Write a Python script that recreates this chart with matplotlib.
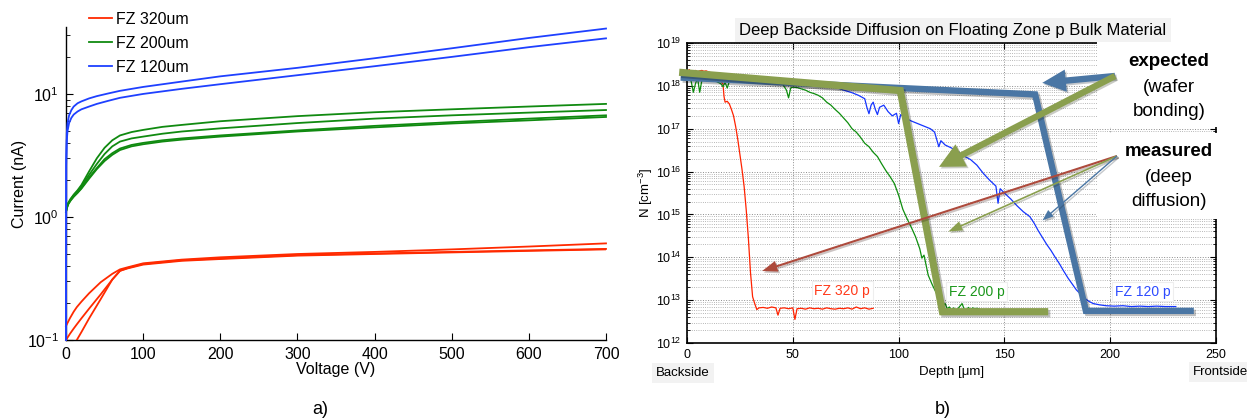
import numpy as np
import matplotlib
matplotlib.use('Agg')
import matplotlib.pyplot as plt
from matplotlib.patches import Rectangle, FancyArrowPatch
import matplotlib.patheffects as pe

plt.rcParams['font.family'] = ['Liberation Sans', 'DejaVu Sans']
plt.rcParams['mathtext.fontset'] = 'custom'
plt.rcParams['mathtext.rm'] = 'Liberation Sans'
plt.rcParams['mathtext.it'] = 'Liberation Sans:italic'
plt.rcParams['mathtext.bf'] = 'Liberation Sans:bold'

# ---------------- panel a) data : I-V curves ----------------
iv_labels = ['FZ 320um', 'FZ 200um', 'FZ 120um']

red_V = [0, 5, 10, 14, 20, 30, 45, 60, 70, 80, 100, 150, 200, 300, 400, 500, 600, 700]
red_I1 = [0.13, 0.15, 0.17, 0.185, 0.205, 0.24, 0.295, 0.345, 0.375, 0.39, 0.42, 0.45, 0.47, 0.50, 0.52, 0.545, 0.575, 0.61]
red_I2 = [0.10, 0.112, 0.124, 0.134, 0.15, 0.18, 0.235, 0.31, 0.365, 0.385, 0.415, 0.445, 0.46, 0.49, 0.505, 0.52, 0.535, 0.55]
red_I3 = [0.07, 0.08, 0.09, 0.10, 0.116, 0.15, 0.215, 0.31, 0.365, 0.382, 0.41, 0.44, 0.455, 0.485, 0.50, 0.515, 0.53, 0.545]

green_V = [0, 1, 3, 6, 10, 15, 20, 30, 40, 50, 60, 70, 85, 100, 125, 150, 200, 300, 400, 500, 600, 700]
green_I1 = [1.1, 1.2, 1.3, 1.4, 1.52, 1.65, 1.82, 2.35, 3.0, 3.65, 4.2, 4.6, 4.9, 5.1, 5.4, 5.6, 6.0, 6.6, 7.1, 7.5, 7.9, 8.3]
green_I2 = [1.1, 1.2, 1.3, 1.4, 1.5, 1.62, 1.78, 2.2, 2.7, 3.25, 3.75, 4.1, 4.35, 4.5, 4.75, 4.95, 5.25, 5.8, 6.3, 6.7, 7.05, 7.4]
green_I3 = [1.1, 1.18, 1.28, 1.37, 1.47, 1.58, 1.72, 2.1, 2.5, 2.95, 3.3, 3.6, 3.85, 4.0, 4.2, 4.35, 4.6, 5.05, 5.5, 5.9, 6.3, 6.7]
green_I4 = [1.1, 1.17, 1.27, 1.36, 1.46, 1.57, 1.7, 2.05, 2.45, 2.85, 3.2, 3.5, 3.75, 3.9, 4.1, 4.25, 4.5, 4.95, 5.35, 5.75, 6.1, 6.5]

blue_V = [0, 0.3, 1, 2, 4, 7, 10, 15, 20, 30, 40, 55, 70, 100, 150, 200, 300, 400, 500, 600, 700]
blue_I1 = [0.1, 3.0, 4.8, 5.8, 6.7, 7.4, 7.9, 8.4, 8.7, 9.2, 9.6, 10.1, 10.6, 11.4, 12.6, 13.9, 16.3, 19.5, 23.5, 28.5, 34.0]
blue_I2 = [0.1, 2.6, 4.2, 5.0, 5.8, 6.4, 6.8, 7.2, 7.5, 7.9, 8.3, 8.8, 9.3, 10.0, 11.0, 12.0, 14.2, 16.8, 20.0, 24.0, 28.3]

volt_ticks = [0, 100, 200, 300, 400, 500, 600, 700]

# ---------------- panel b) data : doping profiles (log10 N) ----------------
prof_labels = ['FZ 320 p', 'FZ 200 p', 'FZ 120 p']

red_depth = [
    0, 1, 2, 3, 4, 5, 6, 7, 8, 9,
    10, 11, 12, 13, 14, 15, 16, 17, 17.5, 18,
    19, 20, 21, 22, 23, 24, 25, 26, 27, 28,
    29, 30, 31, 32, 33, 34, 36, 38, 40, 42,
    43, 44, 46, 48, 50, 51, 52, 54, 56, 58,
    60, 62, 64, 66, 68, 70, 72, 74, 76, 78,
    80, 82, 84, 86, 88]
red_logN = [
    18.30, 18.38, 18.32, 18.30, 18.36, 18.33, 18.35, 18.36, 18.34, 18.35,
    18.33, 18.31, 18.30, 18.28, 18.25, 18.18, 18.10, 18.05, 17.75, 17.62,
    17.64, 17.58, 17.45, 17.30, 17.05, 16.75, 16.40, 16.05, 15.65, 15.10,
    14.45, 13.65, 13.08, 12.92, 12.78, 12.82, 12.83, 12.81, 12.84, 12.82,
    12.65, 12.81, 12.82, 12.80, 12.82, 12.55, 12.80, 12.81, 12.79, 12.82,
    12.80, 12.81, 12.79, 12.82, 12.80, 12.79, 12.81, 12.80, 12.82, 12.79,
    12.84, 12.80, 12.82, 12.79, 12.81]

green_depth = [
    0, 1, 2, 3, 4, 5, 6, 7, 8, 10,
    12, 14, 16, 17, 18, 19, 20, 22, 25, 28,
    31, 34, 37, 40, 43, 45, 47, 48, 49, 50,
    52, 54, 56, 58, 60, 62, 64, 66, 68, 70,
    72, 74, 76, 78, 80, 82, 84, 86, 88, 90,
    92, 94, 96, 98, 100, 102, 104, 106, 108, 110,
    111, 112, 114, 116, 118, 120, 121, 122, 123, 124,
    125, 126, 127, 128, 129, 130, 131, 132, 133, 134,
    135, 136, 137, 138]
green_logN = [
    18.15, 18.20, 18.10, 17.85, 18.05, 18.18, 17.85, 18.12, 18.20, 18.15,
    18.12, 18.10, 18.05, 17.98, 18.08, 17.95, 18.10, 18.08, 18.12, 18.10,
    18.08, 18.10, 18.07, 18.08, 18.05, 18.06, 17.90, 17.72, 17.95, 17.97,
    17.96, 17.93, 17.90, 17.85, 17.82, 17.78, 17.72, 17.62, 17.55, 17.45,
    17.36, 17.25, 17.14, 17.00, 16.92, 16.80, 16.66, 16.58, 16.45, 16.35,
    16.18, 16.02, 15.88, 15.72, 15.45, 15.12, 14.90, 14.70, 14.48, 14.20,
    13.98, 14.05, 13.58, 13.35, 13.15, 12.95, 12.88, 12.92, 12.80, 12.84,
    12.77, 12.82, 12.76, 12.80, 12.86, 12.92, 12.79, 12.77, 12.83, 12.78,
    12.82, 12.80, 12.81, 12.80]

blue_depth = [
    0, 3, 6, 10, 14, 18, 22, 26, 30, 34,
    38, 42, 46, 50, 54, 58, 62, 66, 70, 74,
    78, 81, 84, 85, 86, 87, 88, 89, 90, 91,
    93, 95, 97, 99, 100, 101, 103, 106, 109, 112,
    115, 117, 118, 119, 120, 122, 125, 128, 131, 134,
    137, 140, 143, 146, 147, 148, 150, 153, 156, 159,
    162, 164, 166, 168, 170, 172, 174, 176, 178, 180,
    182, 184, 186, 188, 190, 192, 195, 198, 202, 206,
    210, 214, 218, 222, 226, 231]
blue_logN = [
    18.25, 18.22, 18.24, 18.21, 18.22, 18.20, 18.21, 18.19, 18.20, 18.18,
    18.19, 18.17, 18.16, 18.14, 18.12, 18.10, 18.06, 18.02, 17.97, 17.90,
    17.84, 17.78, 17.70, 17.50, 17.35, 17.55, 17.62, 17.45, 17.33, 17.50,
    17.55, 17.40, 17.30, 17.36, 17.12, 17.33, 17.25, 17.18, 17.12, 17.06,
    17.00, 16.92, 16.75, 16.58, 16.72, 16.62, 16.55, 16.46, 16.36, 16.28,
    16.15, 15.96, 15.80, 15.66, 15.26, 15.60, 15.50, 15.36, 15.20, 15.06,
    14.95, 14.80, 14.62, 14.46, 14.30, 14.16, 14.00, 13.85, 13.68, 13.52,
    13.38, 13.24, 13.14, 13.04, 12.97, 12.92, 12.89, 12.87, 12.86, 12.87,
    12.85, 12.86, 12.85, 12.86, 12.85, 12.85]

# expected profiles (wafer bonding)
exp_green_depth = [-2.0, 100.8, 120.7, 169.0]
exp_green_logN = [18.31, 17.89, 12.73, 12.73]
exp_blue_depth = [-1.5, 164.5, 188.5, 238.0]
exp_blue_logN = [18.19, 17.80, 12.75, 12.75]

depth_ticks = [0, 50, 100, 150, 200, 250]

# ---------------- figure ----------------
W, H = 1247, 419
fig = plt.figure(figsize=(W / 100, H / 100), dpi=100)


def fx(px):
    return px / W


def fy(py):
    return 1 - py / H


C_RED = '#ff2a00'
C_GREEN = '#108a10'
C_BLUE = '#1e40ff'

# ---- panel a ----
ax1 = fig.add_axes([fx(66), fy(340), fx(606) - fx(66), fy(27) - fy(340)])
lw = 1.3
for k, I in enumerate((red_I1, red_I2, red_I3)):
    h_red, = ax1.plot(red_V, I, color=C_RED, lw=lw, zorder=3, clip_on=(k == 2))
for I in (green_I1, green_I2, green_I3, green_I4):
    h_green, = ax1.plot(green_V, I, color=C_GREEN, lw=lw, zorder=3, clip_on=False)
for I in (blue_I1, blue_I2):
    h_blue, = ax1.plot(blue_V, I, color=C_BLUE, lw=lw, zorder=3, clip_on=False)
ax1.set_yscale('log')
ax1.set_ylim(0.1, 35)
ax1.set_xlim(0, 700)
ax1.set_xticks(volt_ticks)
ax1.spines['top'].set_visible(False)
ax1.spines['right'].set_visible(False)
for s in ('left', 'bottom'):
    ax1.spines[s].set_linewidth(1.0)
ax1.tick_params(which='both', direction='in', labelsize=11.5, top=False, right=False)
ax1.tick_params(which='major', length=5, pad=5)
ax1.tick_params(which='minor', length=3)
ax1.set_xlabel('Voltage (V)', fontsize=11.5, labelpad=0)
ax1.set_ylabel('Current (nA)', fontsize=11.5, labelpad=0)
ax1.legend([h_red, h_green, h_blue], iv_labels, loc='upper left',
           bbox_to_anchor=(fx(89), fy(12)), bbox_transform=fig.transFigure,
           frameon=False, borderpad=0, borderaxespad=0, handlelength=1.45,
           handletextpad=0.25, labelspacing=0.56, fontsize=11.5)

fig.text(fx(320), fy(409), 'a)', fontsize=13, ha='center', va='center')
fig.text(fx(943), fy(409), 'b)', fontsize=13, ha='center', va='center')

# ---- panel b ----
ax2 = fig.add_axes([fx(687), fy(343), fx(1216) - fx(687), fy(43) - fy(343)])
ax2.set_yscale('log')
ax2.set_xlim(0, 250)
ax2.set_ylim(1e12, 1e19)
ax2.set_xticks(depth_ticks)
ax2.grid(True, which='major', ls=':', color='#8c8c8c', lw=0.7)
ax2.grid(True, which='minor', axis='y', ls=':', color='#a0a0a0', lw=0.6)
ax2.tick_params(which='both', direction='in', top=True, right=True, labelsize=9)
ax2.tick_params(which='major', length=4, pad=4)
ax2.tick_params(which='minor', length=2.5)
for s in ax2.spines.values():
    s.set_linewidth(1.2)

P_RED = '#ff2200'
P_GREEN = '#0e8e0e'
P_BLUE = '#1535ff'
for dep, lg, c in ((red_depth, red_logN, P_RED), (green_depth, green_logN, P_GREEN),
                   (blue_depth, blue_logN, P_BLUE)):
    ax2.plot(dep, 10 ** np.array(lg), color=c, lw=0.9, zorder=2)

LSHADOW = [pe.SimpleLineShadow(offset=(1.5, -1.5), alpha=0.25), pe.Normal()]
C_STEEL = '#4a76a4'
C_OLIVE = '#8a9f4e'
C_BROWN = '#ad4a3c'
ax2.plot(exp_blue_depth, 10 ** np.array(exp_blue_logN), color=C_STEEL, lw=4.6,
         solid_joinstyle='miter', clip_on=False, zorder=3, path_effects=LSHADOW)
ax2.plot(exp_green_depth, 10 ** np.array(exp_green_logN), color=C_OLIVE, lw=5.2,
         solid_joinstyle='miter', clip_on=False, zorder=3.1, path_effects=LSHADOW)

ax2.set_xlabel('Depth [μm]', fontsize=9.5, labelpad=4)
ax2.set_ylabel('N [cm$^{-3}$]', fontsize=9.5, labelpad=1)

# white boxes behind the annotation text (cover the frame)
for top, bot in ((40, 127), (133, 219)):
    ax2.add_patch(Rectangle((fx(1097), fy(bot)), fx(1247) - fx(1097), fy(top) - fy(bot),
                            transform=fig.transFigure, fc='white', ec='none',
                            zorder=3.5, clip_on=False))

to_fig = ax2.transData + fig.transFigure.inverted()


def arrow(tail_px, tip_d, tip_logN, color, hl, hw, tw, z=4):
    tip = to_fig.transform((tip_d, 10 ** tip_logN))
    a = FancyArrowPatch((fx(tail_px[0]), fy(tail_px[1])), tuple(tip),
                        transform=fig.transFigure,
                        arrowstyle='simple,head_length=%g,head_width=%g,tail_width=%g' % (hl, hw, tw),
                        fc=color, ec='none', shrinkA=0, shrinkB=0, mutation_scale=1,
                        zorder=z, clip_on=False)
    a.set_path_effects([pe.SimplePatchShadow(offset=(1.2, -1.2), alpha=0.25), pe.Normal()])
    ax2.add_artist(a)
    return a


arrow((1115, 76), 167.9, 18.07, C_STEEL, 17, 16, 4.6)
arrow((1115, 76), 119.1, 16.11, C_OLIVE, 18, 18, 4.6)
arrow((1117, 156), 35.5, 13.68, C_BROWN, 11, 8, 1.5)
arrow((1117, 156), 123.5, 14.60, C_OLIVE, 10, 7, 1.2)
arrow((1117, 156), 168.0, 14.86, C_STEEL, 8, 6, 1.0)

for txt, py, bold in (('expected', 62, True), ('(wafer', 87, False), ('bonding)', 112, False),
                      ('measured', 152, True), ('(deep', 177, False), ('diffusion)', 201, False)):
    ax2.text(fx(1169), fy(py), txt, transform=fig.transFigure, ha='center', va='center',
             fontsize=13.5, fontweight='bold' if bold else 'normal', zorder=5)

for txt, d, lg, c in ((prof_labels[0], 73.4, 13.22, '#ff3a1a'), (prof_labels[1], 136.8, 13.2, '#1a961a'),
                      (prof_labels[2], 215.3, 13.2, '#2d4bff')):
    ax2.text(d, 10 ** lg, txt, color=c, fontsize=10, ha='center', va='center', zorder=2.6,
             bbox=dict(fc='white', ec='#eeeeee', lw=0.8, pad=2))

fig.text(fx(953), fy(30), 'Deep Backside Diffusion on Floating Zone p Bulk Material',
         fontsize=12, ha='center', va='center',
         bbox=dict(fc='#f2f2f2', ec='none', pad=3))
fig.text(fx(683), fy(373), 'Backside', fontsize=9.5, ha='center', va='center',
         bbox=dict(fc='#f2f2f2', ec='none', pad=3))
fig.text(fx(1221), fy(372), 'Frontside', fontsize=9.5, ha='center', va='center',
         bbox=dict(fc='#f2f2f2', ec='none', pad=3))

fig.savefig('out.png', dpi=100)
